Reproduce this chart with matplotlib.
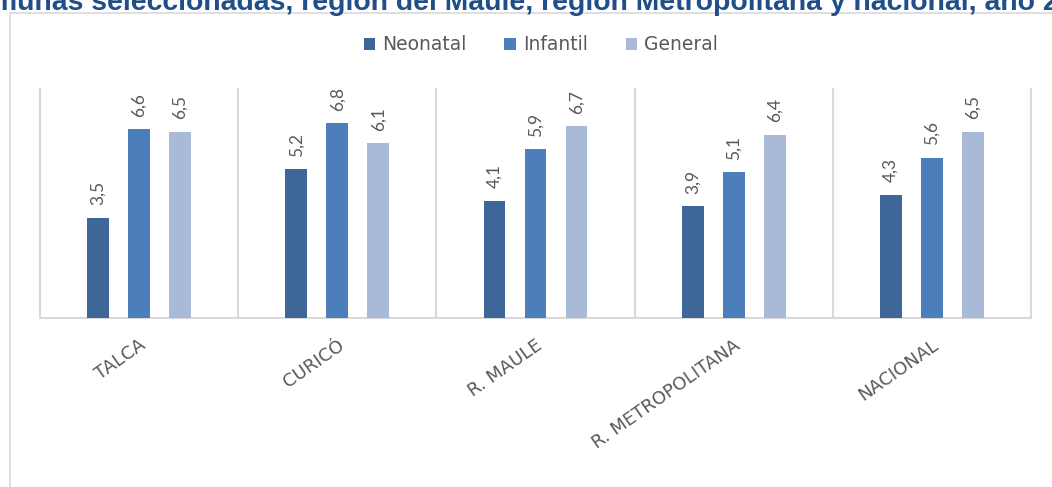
import numpy as np
from matplotlib import pyplot as plt
from matplotlib.lines import Line2D

# Data
categories = ["TALCA", "CURICÓ", "R. MAULE", "R. METROPOLITANA", "NACIONAL"]
neonatal = [3.5, 5.2, 4.1, 3.9, 4.3]
infantil = [6.6, 6.8, 5.9, 5.1, 5.6]
general = [6.5, 6.1, 6.7, 6.4, 6.5]
series_names = ["Neonatal", "Infantil", "General"]
title = "munas seleccionadas, región del Maule, región Metropolitana y nacional, año 2"

colors = ["#3E6698", "#4B7EBB", "#A9BAD8"]
gray_txt = "#595959"
grid_c = "#D9D9D9"

fig = plt.figure(figsize=(10.52, 4.87), dpi=100)
ax = fig.add_axes([40/1052, 169/487, 991/1052, 229/487])

x = np.arange(len(categories))
width = 0.11
offset = 0.207
for i, (vals, name) in enumerate(zip([neonatal, infantil, general], series_names)):
    bars = ax.bar(x + (i - 1)*offset, vals, width, color=colors[i], label=name, zorder=3)
    for b, v in zip(bars, vals):
        ax.annotate(f"{v:.1f}".replace(".", ","), (b.get_x() + b.get_width()/2, v),
                    xytext=(0, 9), textcoords="offset points", rotation=90,
                    ha="center", va="bottom", fontsize=12.5, family="Lato", color=gray_txt)

# category separators
for b in np.arange(-0.5, len(categories), 1.0):
    ax.plot([b, b], [0, 8], color=grid_c, lw=1.5, zorder=1, clip_on=False)

ax.set_xlim(-0.5, len(categories) - 0.5)
ax.set_ylim(0, 8)
for s in ["top", "right", "left"]:
    ax.spines[s].set_visible(False)
ax.spines["bottom"].set_color(grid_c)
ax.spines["bottom"].set_linewidth(1.5)
ax.set_yticks([])
ax.set_xticks(x)
ax.set_xticklabels(categories, rotation=35, ha="right", rotation_mode="anchor",
                   fontsize=13, family="DejaVu Sans", color=gray_txt)
ax.tick_params(axis="x", length=0, pad=13)

leg = fig.legend(loc="center", bbox_to_anchor=(541/1052, 1 - 45/487), ncol=3,
                 frameon=False, handlelength=0.6, handleheight=0.6, handletextpad=0.4,
                 columnspacing=2.0, prop={"size": 13.5, "family": "DejaVu Sans"})
for t in leg.get_texts():
    t.set_color(gray_txt)

# outer frame
fig.add_artist(Line2D([10/1052, 10/1052], [0, 1 - 13/487], color=grid_c, lw=1.2))
fig.add_artist(Line2D([10/1052, 1], [1 - 13/487, 1 - 13/487], color=grid_c, lw=1.2))

fig.text(-8/1052, 1 - 10/487, title, ha="left", va="baseline", fontsize=20.4,
         fontweight="bold", family="Liberation Sans", color="#1F4E89")

plt.savefig("out.png", dpi=100)
